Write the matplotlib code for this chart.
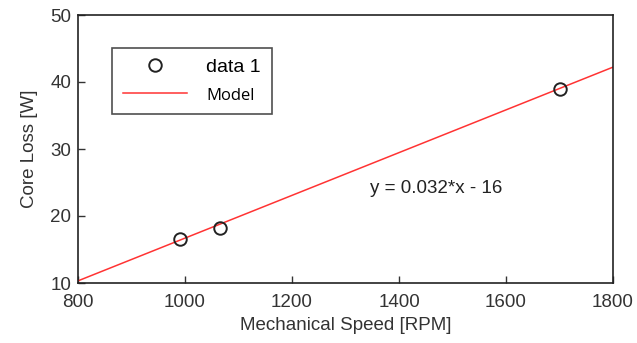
import matplotlib
matplotlib.use("Agg")
import matplotlib.pyplot as plt
import numpy as np

speed = [990, 1065, 1700]
core_loss = [16.5, 18.2, 39.0]
model_slope = 0.0319
model_intercept = -15.2
x_ticks = [800, 1000, 1200, 1400, 1600, 1800]
y_ticks = [10, 20, 30, 40, 50]

plt.rcParams['font.family'] = ['Liberation Sans', 'DejaVu Sans']

fig = plt.figure(figsize=(6.37, 3.43), dpi=100)
ax = fig.add_axes([78/637, 1-283/343, (613-78)/637, (283-15)/343])

xl = np.array([800, 1800])
ax.plot(xl, model_slope*xl + model_intercept, color='#ff3333', lw=1.1, label='Model', zorder=2)
ax.plot(speed, core_loss, 'o', mfc='none', mec='#222222', mew=1.4, ms=9, label='data 1', zorder=3)

ax.set_xlim(800, 1800)
ax.set_ylim(10, 50)
ax.set_xticks(x_ticks)
ax.set_yticks(y_ticks)
ax.tick_params(direction='in', length=5, width=1, labelsize=13.5, colors='#333333', labelcolor='#333333')
ax.tick_params(axis='x', pad=8)
ax.tick_params(axis='y', pad=5)
for s in ax.spines.values():
    s.set_linewidth(1.2)
    s.set_color('#222222')
ax.set_xlabel('Mechanical Speed [RPM]', fontsize=13.5, color='#333333', labelpad=4)
ax.set_ylabel('Core Loss [W]', fontsize=13.5, color='#333333', labelpad=9)

ax.text(0.545, 0.335, 'y = 0.032*x - 16', transform=ax.transAxes, fontsize=13.5, color='#222222')

h, l = ax.get_legend_handles_labels()
leg = ax.legend([h[1], h[0]], [l[1], l[0]], loc='upper left', bbox_to_anchor=((112-78)/535, (283-48)/268),
                borderaxespad=0, frameon=True, fancybox=False, edgecolor='#222222', fontsize=14,
                handlelength=3.3, borderpad=0.55, labelspacing=0.5, handletextpad=1.0)
leg.get_frame().set_linewidth(1.2)
leg.get_texts()[1].set_fontsize(12)
leg.get_texts()[1].set_family(['Open Sans', 'DejaVu Sans'])

fig.savefig('out.png', dpi=100)
